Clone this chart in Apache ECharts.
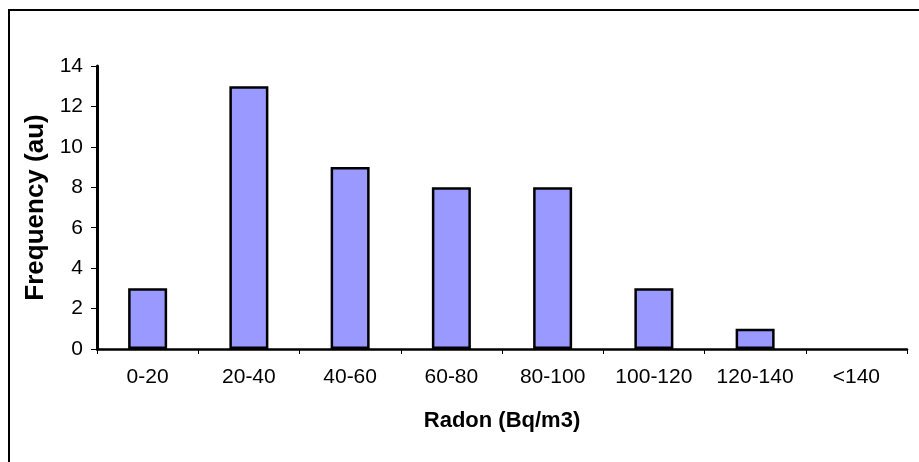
<!DOCTYPE html>
<html><head><meta charset="utf-8">
<script src="https://cdn.jsdelivr.net/npm/echarts@6/dist/echarts.min.js"></script>
<style>html,body{margin:0;padding:0;background:#fff}#c{width:919px;height:462px}</style>
</head><body><div id="c"></div>
<script>
const categories = ['0-20','20-40','40-60','60-80','80-100','100-120','120-140','<140'];
const frequency = [3,13,9,8,8,3,1,0];
const yTicks = {min:0, max:14, interval:2};

const chart = echarts.init(document.getElementById('c'), null, {renderer:'canvas'});
chart.setOption({
  animation:false,
  backgroundColor:'#fff',
  textStyle:{fontFamily:'Liberation Sans, Arial, sans-serif'},
  graphic:[{type:'rect', shape:{x:9,y:10,width:930,height:470}, style:{fill:'none', stroke:'#000', lineWidth:2}, z:0}],
  grid:{left:97, right:12, top:66, bottom:113},
  xAxis:{
    type:'category', data:categories,
    name:'Radon (Bq/m3)', nameLocation:'middle', nameGap:61,
    nameTextStyle:{fontSize:22, fontWeight:'bold', color:'#000', fontFamily:'Liberation Sans, Arial, sans-serif'},
    axisLine:{lineStyle:{color:'#000', width:2.5}},
    axisTick:{show:true, alignWithLabel:false, length:5, lineStyle:{color:'#000', width:1}},
    axisLabel:{fontSize:21, color:'#000', margin:18, interval:0},
    splitLine:{show:false}
  },
  yAxis:{
    type:'value', min:yTicks.min, max:yTicks.max, interval:yTicks.interval,
    name:'Frequency (au)', nameLocation:'middle', nameGap:47, nameRotate:90,
    nameTextStyle:{fontSize:26, fontWeight:'bold', color:'#000', fontFamily:'Liberation Sans, Arial, sans-serif'},
    axisLine:{show:true, lineStyle:{color:'#000', width:3}},
    axisTick:{show:true, length:6, lineStyle:{color:'#000', width:1}},
    axisLabel:{fontSize:21, color:'#000', margin:14},
    splitLine:{show:false}
  },
  series:[{
    type:'bar', barWidth:39,
    data: frequency.map(v => v === 0 ? {value:v, itemStyle:{borderWidth:0}} : v),
    itemStyle:{color:'#9999ff', borderColor:'#000', borderWidth:2.5}
  }]
});
</script></body></html>
